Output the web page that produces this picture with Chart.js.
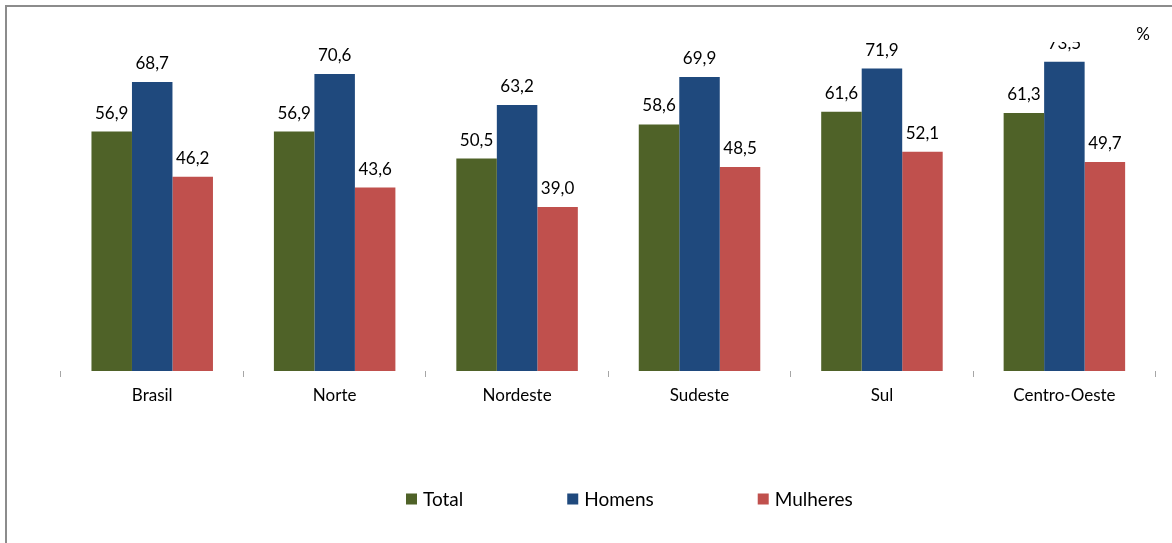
<!DOCTYPE html>
<html><head><meta charset="utf-8">
<script src="https://cdn.jsdelivr.net/npm/chart.js@4"></script>
<style>html,body{margin:0;padding:0;background:#fff}#wrap{width:1172px;height:543px;position:relative}canvas{display:block}</style>
</head><body><div id="wrap"><canvas id="c" width="1172" height="543"></canvas></div>
<script>
const categories = ['Brasil', 'Norte', 'Nordeste', 'Sudeste', 'Sul', 'Centro-Oeste'];
const seriesNames = ['Total', 'Homens', 'Mulheres'];
const totalValues = [56.9, 56.9, 50.5, 58.6, 61.6, 61.3];
const homensValues = [68.7, 70.6, 63.2, 69.9, 71.9, 73.5];
const mulheresValues = [46.2, 43.6, 39.0, 48.5, 52.1, 49.7];
const unitLabel = '%';

const seriesColors = ['#4F6228', '#1F497D', '#C0504D'];
const FONT = 'Lato, "Open Sans", sans-serif';
const fmt = v => v.toFixed(1).replace('.', ',');

const framePlugin = {
  id: 'frame',
  beforeDraw(chart) {
    const ctx = chart.ctx;
    ctx.save();
    ctx.fillStyle = '#ffffff';
    ctx.fillRect(0, 0, chart.width, chart.height);
    ctx.fillStyle = '#8c8c8c';
    ctx.fillRect(5, 5, chart.width - 5, 2);
    ctx.fillRect(5, 5, 2, chart.height - 5);
    ctx.restore();
  },
  afterDraw(chart) {
    const ctx = chart.ctx;
    ctx.save();
    ctx.font = '17px ' + FONT;
    ctx.fillStyle = '#000';
    ctx.textAlign = 'center';
    ctx.textBaseline = 'middle';
    ctx.fillText(unitLabel, 1143, 35);
    // legend
    ctx.font = '19px ' + FONT;
    let x = 406;
    const y = 499;
    chart.data.datasets.forEach(ds => {
      ctx.fillStyle = ds.backgroundColor;
      ctx.fillRect(x, y - 5.5, 11, 11);
      ctx.fillStyle = '#000';
      ctx.textAlign = 'left';
      ctx.fillText(ds.label, x + 17, y + 1);
      const w = ctx.measureText(ds.label).width;
      x += 17 + w + 104;
    });
    ctx.restore();
  }
};

const valueLabelPlugin = {
  id: 'valueLabels',
  afterDatasetsDraw(chart) {
    const ctx = chart.ctx;
    const area = chart.chartArea;
    ctx.save();
    ctx.beginPath();
    ctx.rect(0, area.top, chart.width, chart.height - area.top);
    ctx.clip();
    ctx.font = '17px ' + FONT;
    ctx.fillStyle = '#000';
    ctx.textAlign = 'center';
    ctx.textBaseline = 'alphabetic';
    chart.data.datasets.forEach((ds, di) => {
      const meta = chart.getDatasetMeta(di);
      meta.data.forEach((el, i) => {
        ctx.fillText(fmt(ds.data[i]), el.x, el.y - 13);
      });
    });
    ctx.restore();
  }
};

new Chart(document.getElementById('c'), {
  type: 'bar',
  data: {
    labels: categories,
    datasets: [
      { label: seriesNames[0], data: totalValues, backgroundColor: seriesColors[0] },
      { label: seriesNames[1], data: homensValues, backgroundColor: seriesColors[1] },
      { label: seriesNames[2], data: mulheresValues, backgroundColor: seriesColors[2] }
    ]
  },
  options: {
    responsive: false,
    animation: false,
    devicePixelRatio: 1,
    layout: { padding: { top: 42, left: 61, right: 16.4, bottom: 132 } },
    datasets: { bar: { categoryPercentage: 0.666, barPercentage: 1.0, borderWidth: 0 } },
    plugins: { legend: { display: false }, tooltip: { enabled: false } },
    scales: {
      x: {
        grid: { offset: true, drawOnChartArea: false, drawTicks: true, tickLength: 6, color: '#a6a6a6', lineWidth: 1 },
        border: { display: false },
        ticks: { font: { family: FONT, size: 17 }, color: '#000', padding: 8, maxRotation: 0 },
        afterFit(scale) { scale.height = 40; }
      },
      y: {
        display: false,
        min: 0,
        max: 78.2
      }
    }
  },
  plugins: [framePlugin, valueLabelPlugin]
});
</script>
</body></html>
